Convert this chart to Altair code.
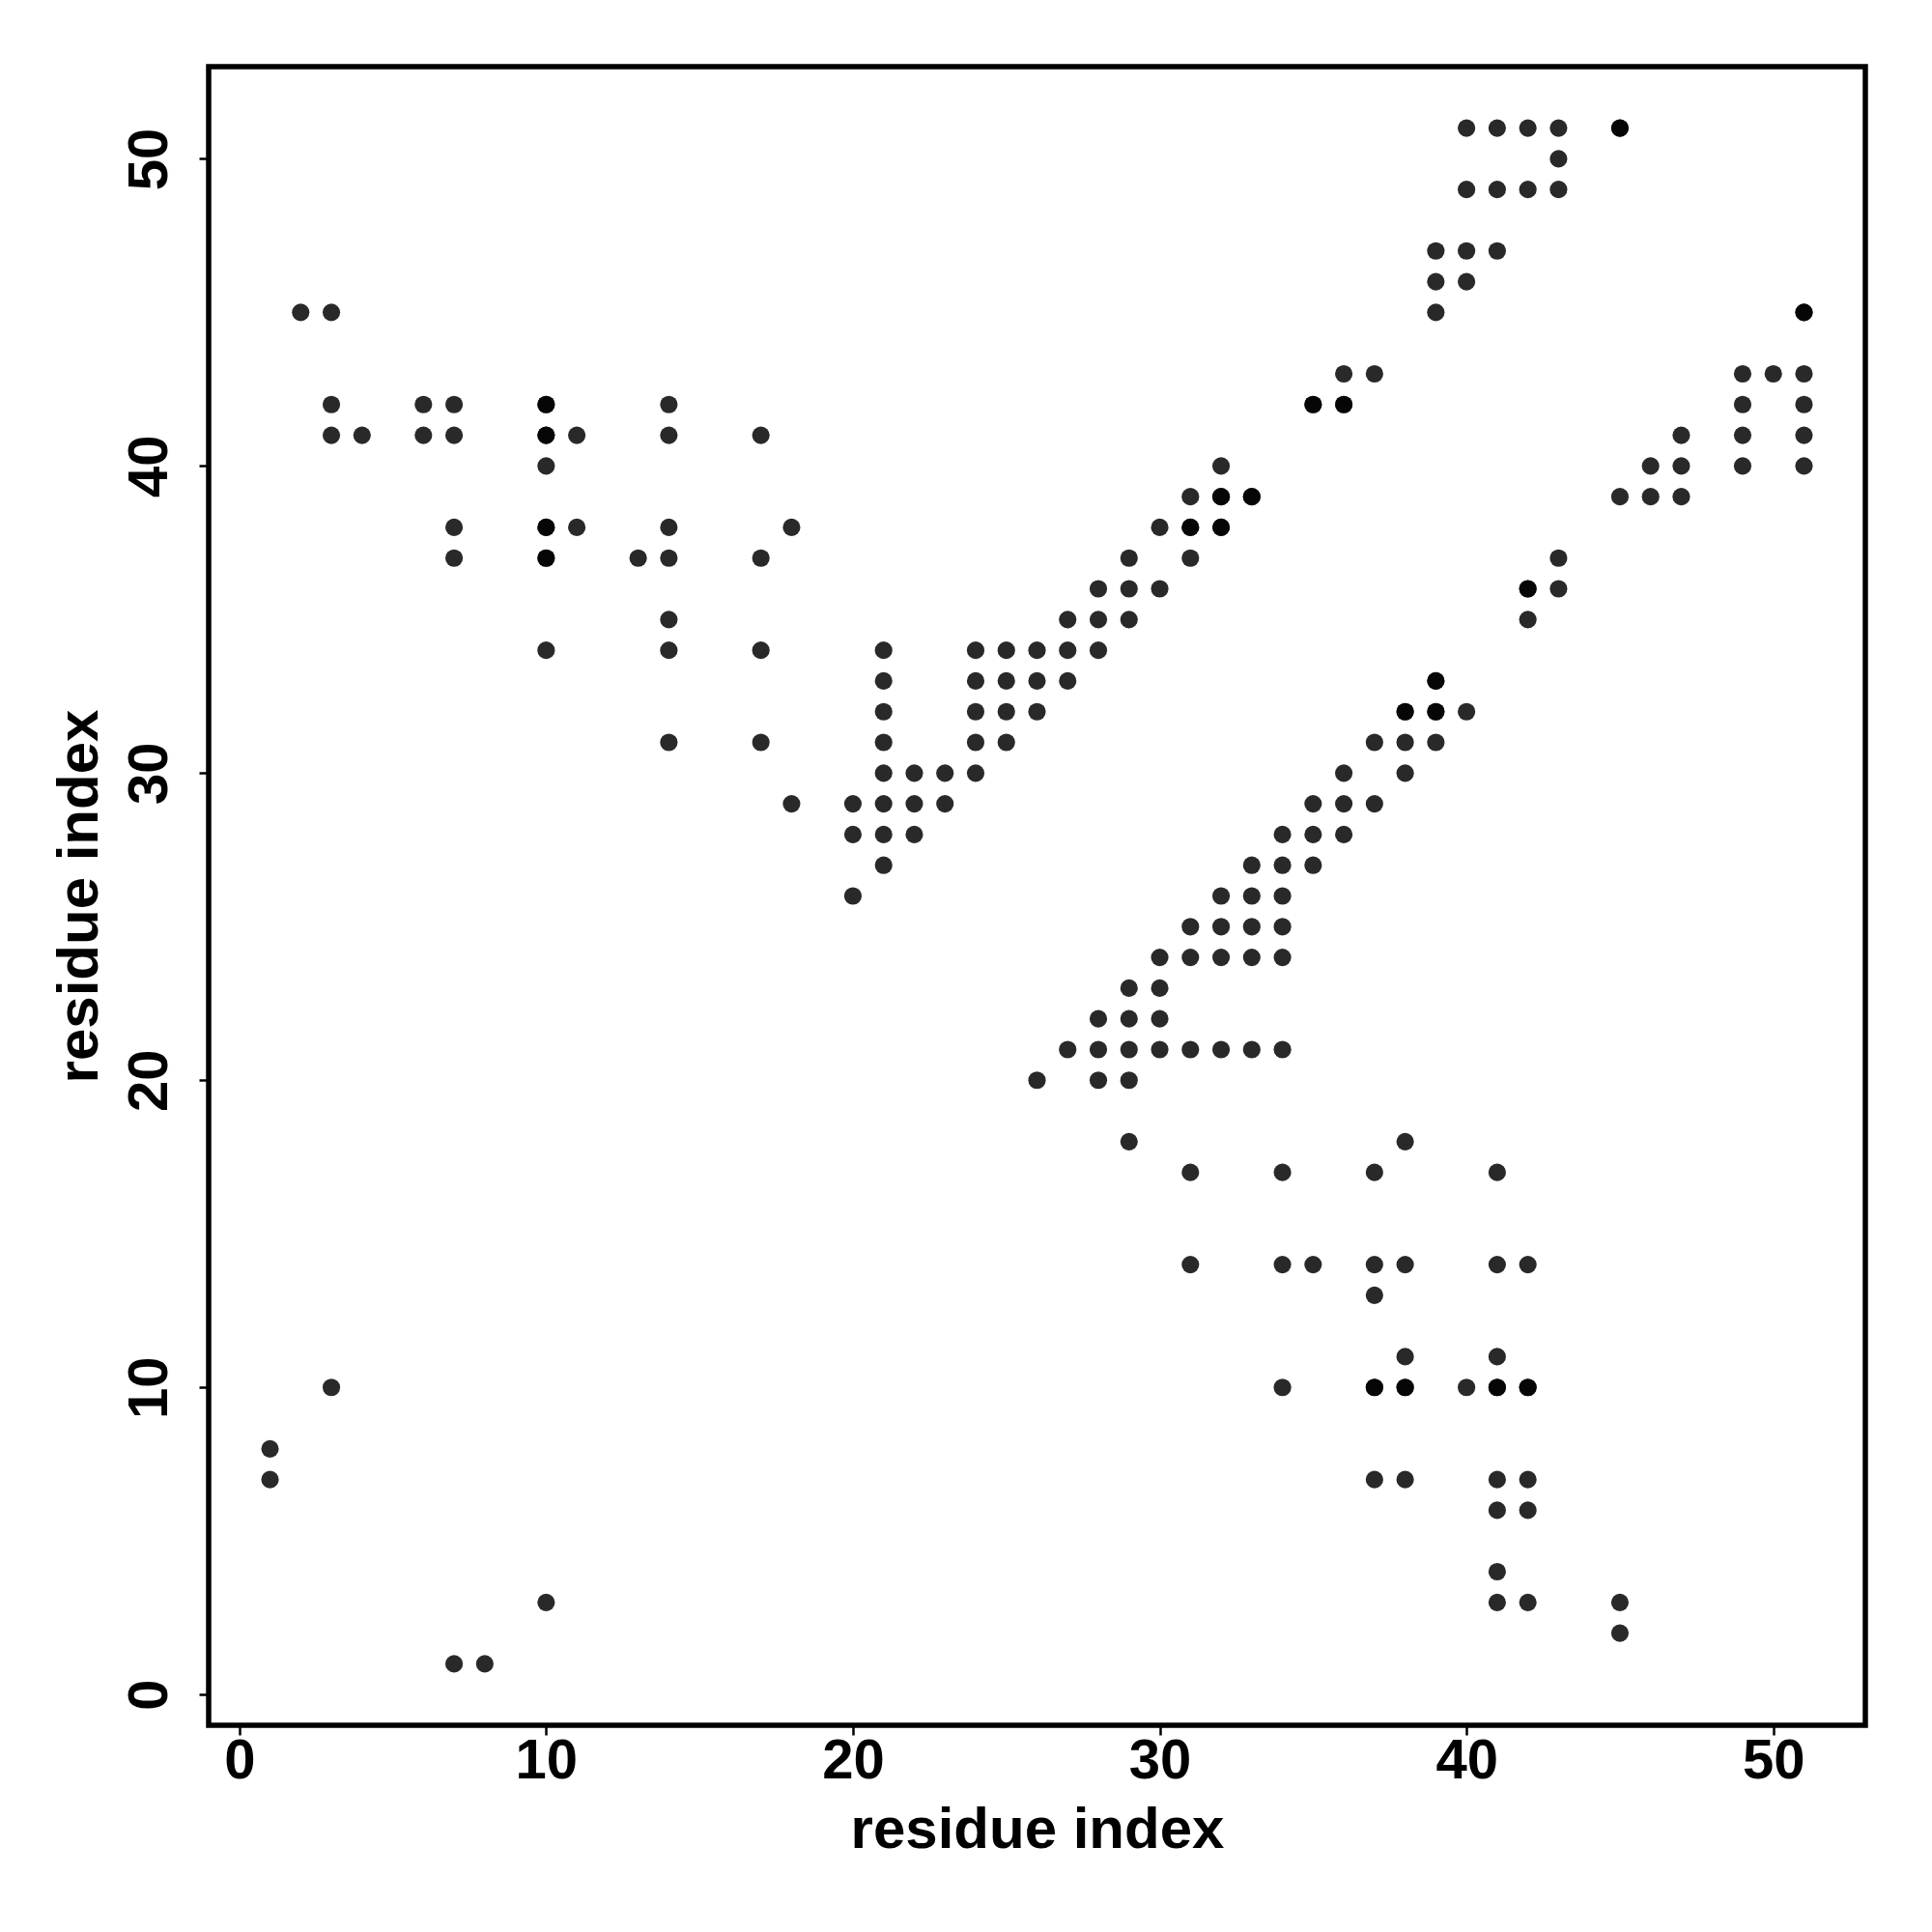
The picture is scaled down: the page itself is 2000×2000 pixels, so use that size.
import altair as alt
import pandas as pd

# contact map: residue i (x) vs residue j (y)
contact_i = [
    1, 1, 2, 3, 3, 3, 3, 4, 6, 6, 7, 7, 7, 7, 7, 8,
    10, 10, 10, 10, 10, 10, 10, 11, 11, 13,
    14, 14, 14, 14, 14, 14, 14, 17, 17, 17, 17, 18, 18,
    20, 20, 20, 21, 21, 21, 21, 21, 21, 21, 21,
    22, 22, 22, 23, 23, 24, 24, 24, 24, 24, 25, 25, 25, 25,
    26, 26, 26, 26, 27, 27, 27, 27, 28, 28, 28, 28, 28, 28,
    29, 29, 29, 29, 29, 29, 29, 29, 30, 30, 30, 30, 30, 30,
    31, 31, 31, 31, 31, 31, 31, 31, 32, 32, 32, 32, 32, 32, 32,
    33, 33, 33, 33, 33, 33, 34, 34, 34, 34, 34, 34, 34, 34, 34,
    35, 35, 35, 35, 35, 36, 36, 36, 36, 36,
    37, 37, 37, 37, 37, 37, 37, 37, 38, 38, 38, 38, 38, 38, 38, 38,
    39, 39, 39, 39, 39, 39, 40, 40, 40, 40, 40, 40,
    41, 41, 41, 41, 41, 41, 41, 41, 41, 41, 41,
    42, 42, 42, 42, 42, 42, 42, 42, 42, 43, 43, 43, 43, 43,
    45, 45, 45, 45, 46, 46, 47, 47, 47, 49, 49, 49, 49, 50,
    51, 51, 51, 51, 51,
]
contact_j = [
    8, 7, 45, 45, 42, 41, 10, 41, 42, 41, 42, 41, 38, 37, 1, 1,
    42, 41, 40, 38, 37, 34, 3, 41, 38, 37,
    42, 41, 38, 37, 35, 34, 31, 41, 37, 34, 31, 38, 29,
    29, 28, 26, 34, 33, 32, 31, 30, 29, 28, 27,
    30, 29, 28, 30, 29, 34, 33, 32, 31, 30, 34, 33, 32, 31,
    34, 33, 32, 20, 35, 34, 33, 21, 36, 35, 34, 22, 21, 20,
    37, 36, 35, 23, 22, 21, 20, 18, 38, 36, 24, 23, 22, 21,
    39, 38, 37, 25, 24, 21, 17, 14, 40, 39, 38, 26, 25, 24, 21,
    39, 27, 26, 25, 24, 21, 28, 27, 26, 25, 24, 21, 17, 14, 10,
    42, 29, 28, 27, 14, 43, 42, 30, 29, 28,
    43, 31, 29, 17, 14, 13, 10, 7, 32, 31, 30, 18, 14, 11, 10, 7,
    47, 46, 45, 33, 32, 31, 51, 49, 47, 46, 32, 10,
    51, 49, 47, 17, 14, 11, 10, 7, 6, 4, 3,
    51, 49, 36, 35, 14, 10, 7, 6, 3, 51, 50, 49, 37, 36,
    51, 39, 3, 2, 40, 39, 41, 40, 39, 43, 42, 41, 40, 43,
    45, 43, 42, 41, 40,
]

# contacts that appear twice (drawn darker in the reference)
repeat_i = [10, 10, 10, 10, 31, 32, 32, 33, 35, 36, 42, 39, 38, 39, 37, 38, 41, 42, 45, 51]
repeat_j = [42, 41, 38, 37, 38, 38, 39, 39, 42, 42, 36, 33, 32, 32, 10, 10, 10, 10, 51, 45]

axis_ticks = [0, 10, 20, 30, 40, 50]

df = pd.DataFrame({"i": contact_i, "j": contact_j})
df_rep = pd.DataFrame({"i": repeat_i, "j": repeat_j})

W, H = 1715, 1717
FONT = "Liberation Sans, Arial, Helvetica, sans-serif"

xscale = alt.Scale(domain=[-1, 53], nice=False, zero=False)
yscale = alt.Scale(domain=[-1, 53], nice=False, zero=False)

xaxis = alt.Axis(
    values=axis_ticks, title="residue index", grid=False, domain=False,
    tickSize=10, tickWidth=2.5, tickColor="black",
    labelFont=FONT, labelFontSize=58, labelFontWeight="bold", labelColor="black",
    labelBaseline="alphabetic", labelPadding=44, labelAlign="center",
    titleFont=FONT, titleFontSize=60, titleFontWeight="bold", titleColor="black",
    titleBaseline="alphabetic", titleX=W / 2, titleY=126, titleAlign="center",
)
yaxis = alt.Axis(
    values=axis_ticks, title="residue index", grid=False, domain=False,
    tickSize=10, tickWidth=2.5, tickColor="black",
    labelFont=FONT, labelFontSize=58, labelFontWeight="bold", labelColor="black",
    labelAngle=270, labelBaseline="alphabetic", labelAlign="center", labelPadding=34,
    titleFont=FONT, titleFontSize=60, titleFontWeight="bold", titleColor="black",
    titleAngle=270, titleBaseline="alphabetic", titleAlign="center",
    titleX=-116, titleY=H / 2,
)

base = alt.Chart(df).mark_circle(size=330, color="black", opacity=0.84).encode(
    x=alt.X("i:Q", scale=xscale, axis=xaxis),
    y=alt.Y("j:Q", scale=yscale, axis=yaxis),
)
rep = alt.Chart(df_rep).mark_circle(size=330, color="black", opacity=0.84).encode(
    x=alt.X("i:Q", scale=xscale),
    y=alt.Y("j:Q", scale=yscale),
)

chart = alt.layer(base, rep).properties(
    width=W, height=H,
    autosize=alt.AutoSizeParams(type="none"),
    padding={"left": 208, "top": 61, "right": 61, "bottom": 206},
    background="white",
).configure_view(
    stroke="black", strokeWidth=5.5, fill="white"
)

chart.save("out.html", embed_options={"renderer": "svg", "actions": False})
